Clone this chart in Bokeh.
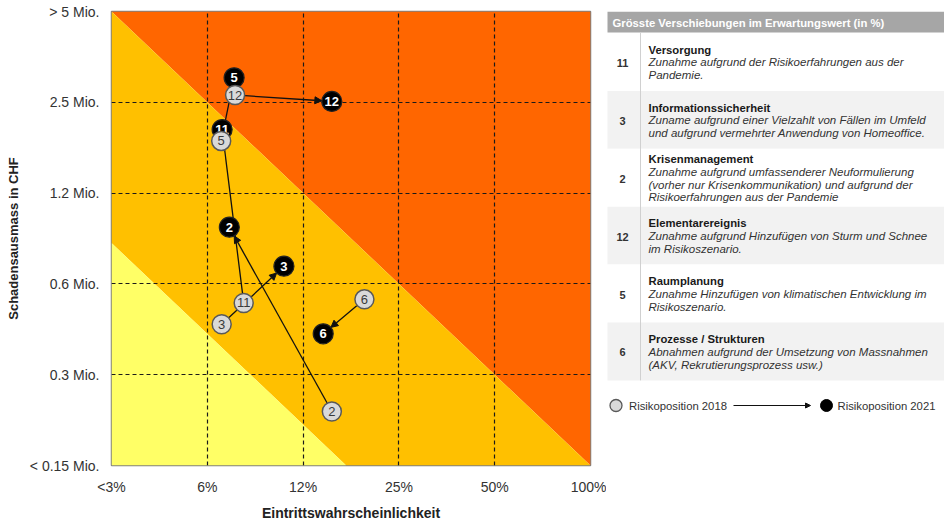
import math
from bokeh.plotting import figure
from bokeh.models import Range1d, FixedTicker, ColumnDataSource, Arrow, NormalHead
from bokeh.layouts import row
from bokeh.embed import file_html
from bokeh.resources import INLINE
from bokeh.core.properties import value

FONT = "Liberation Sans"

# ---------------- data ----------------
x_labels = ["<3%", "6%", "12%", "25%", "50%", "100%"]
y_labels = ["< 0.15 Mio.", "0.3 Mio.", "0.6 Mio.", "1.2 Mio.", "2.5 Mio.", "> 5 Mio."]

risk_ids = ["11", "3", "2", "12", "5", "6"]
# positions on the class scale (0 = first tick class, 5 = last)
prob_2018 = [1.38, 1.15, 2.30, 1.29, 1.145, 2.64]
impact_2018 = [1.79, 1.555, 0.595, 4.08, 3.575, 1.83]
prob_2021 = [1.155, 1.80, 1.23, 2.30, 1.28, 2.21]
impact_2021 = [3.70, 2.195, 2.625, 4.01, 4.27, 1.45]

zone_low = 2.45   # yellow / amber boundary (class units on both axes)
zone_high = 5.0   # amber / red boundary

table_title = "Grösste Verschiebungen im Erwartungswert (in %)"
table_ids = ["11", "3", "2", "12", "5", "6"]
table_names = ["Versorgung", "Informationssicherheit", "Krisenmanagement",
               "Elementarereignis", "Raumplanung", "Prozesse / Strukturen"]
table_texts = [
    ["Zunahme aufgrund der Risikoerfahrungen aus der", "Pandemie."],
    ["Zuname aufgrund einer Vielzahlt von Fällen im Umfeld",
     "und aufgrund vermehrter Anwendung von Homeoffice."],
    ["Zunahme aufgrund umfassenderer Neuformulierung",
     "(vorher nur Krisenkommunikation) und aufgrund der",
     "Risikoerfahrungen aus der Pandemie"],
    ["Zunahme aufgrund Hinzufügen von Sturm und Schnee", "im Risikoszenario."],
    ["Zunahme Hinzufügen von klimatischen Entwicklung im", "Risikoszenario."],
    ["Abnahmen aufgrund der Umsetzung von Massnahmen",
     "(AKV, Rekrutierungsprozess usw.)"],
]
legend_labels = ["Risikoposition 2018", "Risikoposition 2021"]

# ---------------- chart ----------------
FW, FH = 479, 454
BL, BR, BT, BB = 111, 16, 11, 60

p = figure(frame_width=FW, frame_height=FH, x_range=Range1d(0, 5), y_range=Range1d(0, 5),
           toolbar_location=None, output_backend="svg",
           min_border_left=BL, min_border_right=BR, min_border_top=BT, min_border_bottom=BB)
p.background_fill_color = "white"
p.border_fill_color = "white"
p.outline_line_color = "#808080"
p.outline_line_width = 1.5

# risk zones
p.patch([0, zone_high, zone_high], [zone_high, zone_high, 0], fill_color="#FF6600",
        line_color=None, level="image")
p.patch([0, zone_high, zone_low, 0], [zone_high, 0, 0, zone_low], fill_color="#FFC000",
        line_color=None, level="image")
p.patch([0, zone_low, 0], [0, 0, zone_low], fill_color="#FFFF66",
        line_color=None, level="image")

ticks = list(range(len(x_labels)))
for ax, labels in ((p.xaxis, x_labels), (p.yaxis, y_labels)):
    ax.ticker = FixedTicker(ticks=ticks)
    ax.major_label_overrides = {i: t for i, t in enumerate(labels)}
    ax.axis_line_color = None
    ax.major_tick_line_color = None
    ax.minor_tick_line_color = None
    ax.major_tick_out = 0
    ax.major_tick_in = 0
    ax.minor_tick_out = 0
    ax.minor_tick_in = 0
    ax.major_label_text_font = FONT
    ax.major_label_text_font_size = "14px"
    ax.major_label_text_color = "#333333"
    ax.axis_label_text_font = FONT
    ax.axis_label_text_font_style = "bold"
    ax.axis_label_text_color = "#222222"

p.xaxis.axis_label_text_font_size = "14px"
p.yaxis.axis_label_text_font_size = "13px"
p.xaxis.axis_label = "Eintrittswahrscheinlichkeit"
p.yaxis.axis_label = "Schadensausmass in CHF"
p.xaxis.major_label_standoff = 13
p.xaxis.axis_label_standoff = 7
p.yaxis.major_label_standoff = 12
p.yaxis.axis_label_standoff = 6

for g in (p.xgrid, p.ygrid):
    g.ticker = FixedTicker(ticks=ticks[1:-1])
    g.grid_line_color = "#1a1a1a"
    g.grid_line_width = 1.2
    g.grid_line_dash = "4 3"

# arrows from 2018 to 2021, shortened by the marker radius in screen pixels
sx, sy = FW / 5.0, FH / 5.0
R = 10.0
xs, ys, xe, ye = [], [], [], []
for x0, y0, x1, y1 in zip(prob_2018, impact_2018, prob_2021, impact_2021):
    dx, dy = (x1 - x0) * sx, (y1 - y0) * sy
    L = math.hypot(dx, dy)
    ux, uy = dx / L, dy / L
    xs.append(x0 + ux * R / sx)
    ys.append(y0 + uy * R / sy)
    xe.append(x1 - ux * R / sx)
    ye.append(y1 - uy * R / sy)
arrow_src = ColumnDataSource(dict(xs=xs, ys=ys, xe=xe, ye=ye))
p.add_layout(Arrow(source=arrow_src, x_start="xs", y_start="ys", x_end="xe", y_end="ye",
                   line_color="#111111", line_width=1.3, level="underlay",
                   end=NormalHead(size=7, fill_color="#111111", line_color="#111111")))

src21 = ColumnDataSource(dict(x=prob_2021, y=impact_2021, t=risk_ids))
src18 = ColumnDataSource(dict(x=prob_2018, y=impact_2018, t=risk_ids))

p.scatter("x", "y", source=src21, size=20, fill_color="black", line_color="#222222",
          line_width=1.2)
p.text("x", "y", text="t", source=src21, text_align="center", text_baseline="middle",
       text_color="white", text_font=value(FONT), text_font_style="bold",
       text_font_size="13px")
p.scatter("x", "y", source=src18, size=19, fill_color="#D9D9D9", line_color="#595959",
          line_width=1.5)
p.text("x", "y", text="t", source=src18, text_align="center", text_baseline="middle",
       text_color="#3a3a3a", text_font=value(FONT), text_font_size="13px")

# ---------------- table + legend ----------------
X0 = BL + FW + BR          # left page edge of the table panel
W2 = 944 - X0
p2 = figure(frame_width=W2, frame_height=FH, x_range=Range1d(X0, X0 + W2),
            y_range=Range1d(BT + FH, BT),
            x_axis_location=None, y_axis_location=None, toolbar_location=None,
            output_backend="svg", min_border_left=0, min_border_right=0,
            min_border_top=BT, min_border_bottom=BB)
p2.outline_line_color = None
p2.background_fill_color = "white"
p2.border_fill_color = "white"
p2.grid.grid_line_color = None
p2.xgrid.visible = False
p2.ygrid.visible = False

TL, TR = 607, X0 + W2
HT, HB = 11, 32
RH = 57.9
n = len(table_ids)
tops = [HB + 0.5 + i * RH for i in range(n)]
FS = "11.3px"

p2.quad(left=TL, right=TR, top=HT, bottom=HB, fill_color="#A6A6A6", line_color=None)
p2.text([612], [HT + (HB - HT) / 2 + 0.5], text=[table_title], text_align="left",
        text_baseline="middle", text_color="white", text_font=value(FONT),
        text_font_style="bold", text_font_size=FS)

p2.quad(left=[TL] * n, right=[TR] * n, top=tops, bottom=[t + RH for t in tops],
        fill_color=["white" if i % 2 == 0 else "#F2F2F2" for i in range(n)],
        line_color=None)
p2.segment(x0=[640], y0=[tops[0]], x1=[640], y1=[tops[-1] + RH], line_color="#D0D0D0",
           line_width=1)

num_x, num_y, tit_x, tit_y, d_x, d_y, d_t = [], [], [], [], [], [], []
LS = 12.8
for i in range(n):
    mid = tops[i] + RH / 2
    nl = 1 + len(table_texts[i])
    first = mid + 0.5 - (nl - 1) * LS / 2
    num_x.append(622)
    num_y.append(mid + 1)
    tit_x.append(648)
    tit_y.append(first)
    for k, line in enumerate(table_texts[i]):
        d_x.append(648)
        d_y.append(first + (k + 1) * LS)
        d_t.append(line)

p2.text(num_x, num_y, text=table_ids, text_align="center", text_baseline="middle",
        text_color="#333333", text_font=value(FONT), text_font_style="bold",
        text_font_size="11px")
p2.text(tit_x, tit_y, text=table_names, text_align="left", text_baseline="middle",
        text_color="#1a1a1a", text_font=value(FONT), text_font_style="bold",
        text_font_size=FS)
p2.text(d_x, d_y, text=d_t, text_align="left", text_baseline="middle",
        text_color="#333333", text_font=value(FONT), text_font_style="italic",
        text_font_size="11.5px")

LY = 405
p2.scatter([615.5], [LY], size=12, fill_color="#D9D9D9", line_color="#595959", line_width=1.3)
p2.scatter([826], [LY], size=12, fill_color="black", line_color="black")
p2.text([628.5, 837], [LY, LY], text=legend_labels, text_align="left", text_baseline="middle",
        text_color="#333333", text_font=value(FONT), text_font_size=FS)
p2.add_layout(Arrow(x_start=733, y_start=LY, x_end=810, y_end=LY, line_color="#111111",
                    line_width=1, end=NormalHead(size=5, fill_color="#111111",
                                                 line_color="#111111")))

layout = row(p, p2)
open("out.html", "w").write(file_html(layout, INLINE))
